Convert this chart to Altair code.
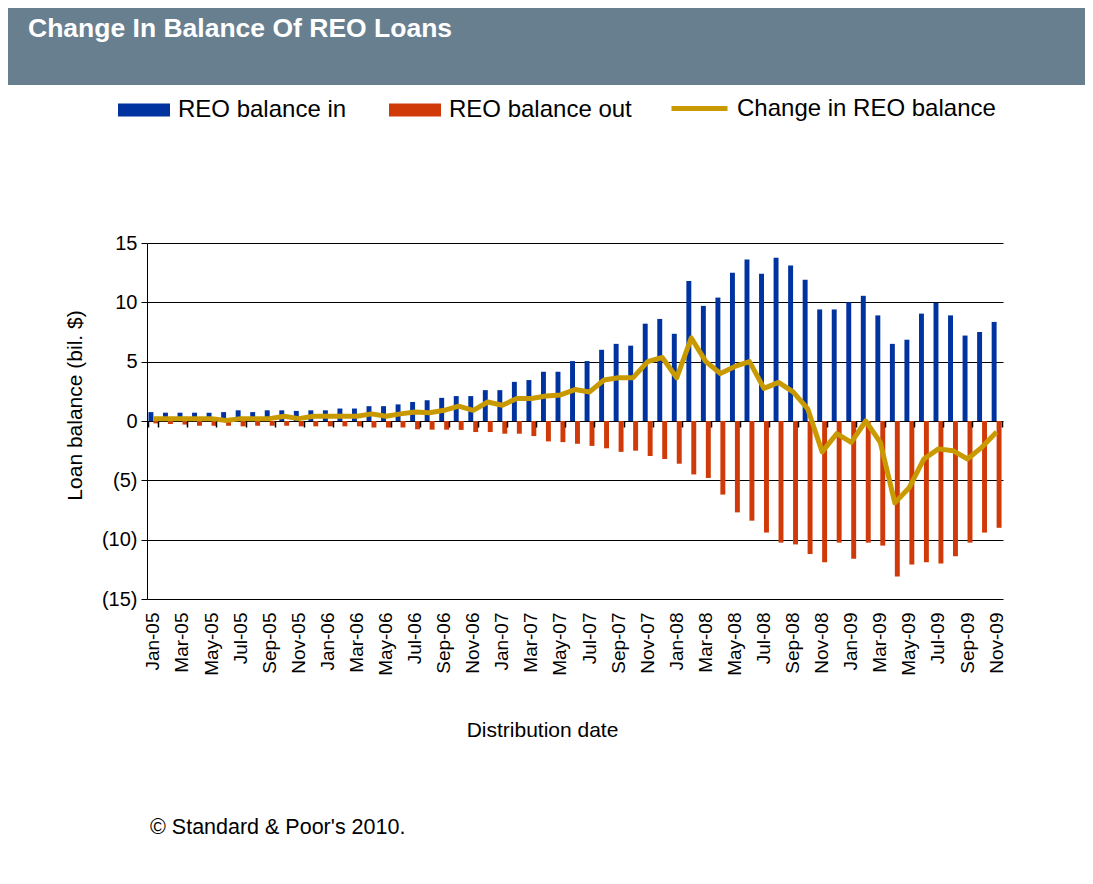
import altair as alt
import pandas as pd

# ---- data ----
month_names = ["Jan", "Feb", "Mar", "Apr", "May", "Jun", "Jul", "Aug", "Sep", "Oct", "Nov", "Dec"]
years = ["05", "06", "07", "08", "09"]
months = [f"{m}-{y}" for y in years for m in month_names][:59]  # Jan-05 .. Nov-09

reo_in = [0.75, 0.7, 0.7, 0.7, 0.7, 0.75, 0.9, 0.75, 0.9, 0.9, 0.85, 0.9, 0.9, 1.05, 1.05,
          1.25, 1.25, 1.4, 1.6, 1.75, 1.95, 2.1, 2.1, 2.6, 2.6, 3.3, 3.45, 4.15, 4.15,
          5.05, 5.05, 6.0, 6.5, 6.35, 8.2, 8.6, 7.35, 11.8, 9.7,
          10.4, 12.5, 13.6, 12.4, 13.75, 13.1, 11.9, 9.4, 9.4, 10.0,
          10.55, 8.9, 6.5, 6.85, 9.05, 9.95, 8.9, 7.2, 7.5, 8.35]

reo_out = [-0.2, -0.25, -0.3, -0.4, -0.4, -0.4, -0.45, -0.4, -0.4, -0.4, -0.45, -0.45, -0.45, -0.45, -0.45,
           -0.55, -0.55, -0.55, -0.7, -0.73, -0.73, -0.75, -0.93, -0.93, -1.07, -1.07, -1.27, -1.72, -1.78,
           -1.92, -2.1, -2.3, -2.6, -2.5, -2.95, -3.2, -3.6, -4.5, -4.8,
           -6.2, -7.7, -8.4, -9.4, -10.25, -10.4, -11.2, -11.9, -10.25, -11.6,
           -10.25, -10.5, -13.1, -12.1, -11.9, -12.0, -11.4, -10.25, -9.4, -9.0]

reo_change = [0.2, 0.2, 0.2, 0.2, 0.2, 0.05, 0.2, 0.2, 0.2, 0.4, 0.2, 0.4, 0.4, 0.4, 0.4,
              0.6, 0.4, 0.6, 0.75, 0.7, 0.9, 1.25, 0.9, 1.6, 1.33, 1.9, 1.9, 2.1, 2.2,
              2.65, 2.45, 3.45, 3.65, 3.65, 5.0, 5.35, 3.65, 7.0, 5.0,
              4.0, 4.6, 5.0, 2.75, 3.25, 2.45, 1.05, -2.6, -1.07, -1.8,
              0.0, -1.8, -6.9, -5.6, -3.2, -2.35, -2.5, -3.2, -2.2, -0.93]

series_names = ["REO balance in", "REO balance out"]
line_name = "Change in REO balance"
y_ticks = [-15, -10, -5, 0, 5, 10, 15]
label_months = months[::2]

title_text = "Change In Balance Of REO Loans"
footer_text = "\u00a9 Standard & Poor's 2010."

BLUE = "#0033A0"
RED = "#D03A08"
GOLD = "#C99A00"
HEADER = "#687F90"
FONT = "Liberation Sans"

bars_df = pd.DataFrame({
    "month": months * 2,
    "series": [series_names[0]] * len(months) + [series_names[1]] * len(months),
    "value": reo_in + reo_out,
})
line_df = pd.DataFrame({"month": months, "series": [line_name] * len(months), "value": reo_change})

W, H = 856, 356

x_scale = alt.Scale(domain=months, paddingInner=0.32, paddingOuter=0.1)
y_scale = alt.Scale(domain=[-15, 15], nice=False, zero=False)

bars = alt.Chart(bars_df).mark_bar().encode(
    x=alt.X("month:N", sort=months, scale=x_scale,
            axis=alt.Axis(orient="bottom", values=label_months, labelAngle=270,
                          labelFontSize=19, labelColor="black", labelPadding=13,
                          ticks=False, domain=False, grid=False,
                          title="Distribution date", titleFontSize=21, titleFontWeight="normal",
                          titleColor="black", titleX=395, titleY=131, titleBaseline="middle",
                          titleAlign="center")),
    xOffset=alt.XOffset("series:N", sort=series_names, scale=alt.Scale(paddingInner=0, paddingOuter=0)),
    y=alt.Y("value:Q", scale=y_scale,
            axis=alt.Axis(orient="left", values=y_ticks,
                          labelExpr="datum.value < 0 ? '(' + (-datum.value) + ')' : '' + datum.value",
                          labelFontSize=20, labelColor="black", labelPadding=4,
                          tickColor="black", tickSize=6, domainColor="black",
                          gridColor="black", gridOpacity=1, gridWidth=1,
                          title="Loan balance (bil. $)", titleFontSize=21, titleFontWeight="normal",
                          titleColor="black", titleX=-72, titleY=H / 2 - 16, titleAlign="center",
                          titleBaseline="middle")),
    color=alt.Color("series:N", sort=series_names,
                    scale=alt.Scale(domain=series_names, range=[BLUE, RED]),
                    legend=alt.Legend(orient="none", direction="horizontal", legendX=-29, legendY=-159,
                                      title=None, symbolType="M-1,-0.25H1V0.25H-1Z", symbolSize=2704,
                                      symbolStrokeWidth=0, labelFontSize=24, labelColor="black",
                                      labelOffset=8, columnPadding=42, labelLimit=500)),
)

line = alt.Chart(line_df).mark_line(strokeWidth=5, strokeJoin="round").encode(
    x=alt.X("month:N", sort=months, scale=x_scale,
            axis=alt.Axis(orient="bottom", offset=-H / 2, values=label_months, labels=False,
                          ticks=True, tickBand="extent", tickSize=6, tickColor="black",
                          tickWidth=1.5, domain=False, grid=False, title=None, zindex=1)),
    y=alt.Y("value:Q", scale=y_scale, axis=None),
    stroke=alt.Stroke("series:N", scale=alt.Scale(domain=[line_name], range=[GOLD]),
                      legend=alt.Legend(orient="none", legendX=522, legendY=-165, title=None,
                                        symbolType="stroke", symbolSize=3136, symbolStrokeWidth=5,
                                        labelFontSize=24, labelColor="black", labelOffset=7,
                                        labelLimit=500)),
)

header = alt.Chart(pd.DataFrame({"t": [title_text]})).mark_rect(color=HEADER).encode(
    x=alt.value(-139), x2=alt.value(W + 82), y=alt.value(-235), y2=alt.value(-158)
)
header_text = alt.Chart(pd.DataFrame({"t": [title_text]})).mark_text(
    align="left", baseline="middle", color="white", fontSize=26.5, fontWeight="bold", font=FONT
).encode(x=alt.value(-119), y=alt.value(-214), text="t:N")

footer = alt.Chart(pd.DataFrame({"t": [footer_text]})).mark_text(
    align="left", baseline="middle", color="black", fontSize=21.5, font=FONT
).encode(x=alt.value(3), y=alt.value(585), text="t:N")

chart = alt.layer(header, header_text, bars, line, footer).resolve_axis(
    x="independent", y="independent"
).properties(
    width=W, height=H,
    padding={"left": 139, "top": 235, "right": 82, "bottom": 270},
    autosize=alt.AutoSizeParams(type="none"),
    background="white",
).configure(font=FONT).configure_view(stroke=None).configure_axis(
    labelFont=FONT, titleFont=FONT
).configure_legend(labelFont=FONT)

chart.save("out.html", embed_options={"renderer": "svg", "actions": False})
